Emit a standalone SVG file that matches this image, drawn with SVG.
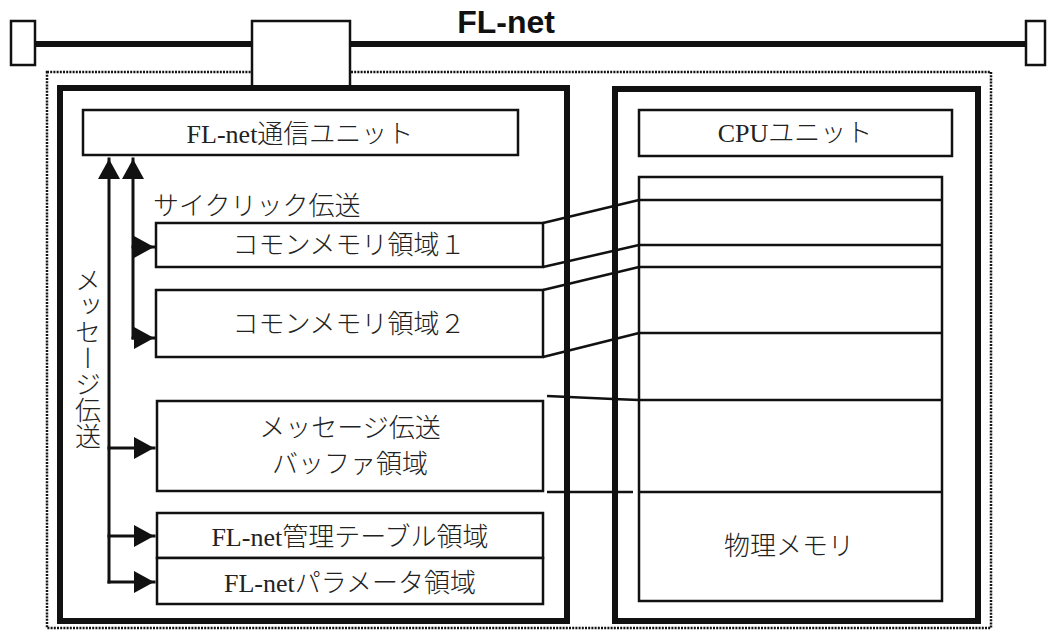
<svg xmlns="http://www.w3.org/2000/svg" width="1050" height="630" viewBox="0 0 1050 630">
<style>
.box{fill:#fff;stroke:#111;stroke-width:2.5}
.thick{fill:none;stroke:#111;stroke-width:6}
.dot{fill:none;stroke:#111;stroke-width:2.5;stroke-dasharray:2 1.2}
.ln{fill:none;stroke:#111;stroke-width:2.5}
.arr{fill:none;stroke:#111;stroke-width:3;stroke-linecap:square}
.t{font-family:"Liberation Serif","Noto Sans CJK JP",serif;font-size:26px;font-weight:300;fill:#222;text-anchor:middle}
.title{font-family:"Liberation Sans",Arial,sans-serif;font-weight:bold;font-size:32px;fill:#111;text-anchor:middle}
</style>
<defs>
<marker id="ah" viewBox="0 0 20 22" markerWidth="20" markerHeight="22" refX="20" refY="11" orient="auto" markerUnits="userSpaceOnUse">
<path d="M0,0 L20,11 L0,22 Z" fill="#111"/>
</marker>
</defs>
<rect width="1050" height="630" fill="#fff"/>

<g id="bus">
<line x1="35" y1="44" x2="1026" y2="44" stroke="#111" stroke-width="6"/>
<rect x="11" y="21" width="24" height="44" class="box"/>
<rect x="1026" y="21" width="19" height="44" class="box"/>
<text x="506" y="33" class="title">FL-net</text>
</g>

<g id="outer">
<rect x="47" y="72" width="944" height="556" class="dot"/>
</g>

<g id="interface">
<rect x="252" y="21" width="98" height="67" class="box"/>
</g>

<g id="fl-net-frame">
<rect x="60" y="88" width="507" height="533" class="thick"/>
</g>

<g id="cpu-frame">
<rect x="615" y="89" width="363" height="532" class="thick"/>
</g>

<g id="fl-net-unit">
<rect x="83" y="110" width="435" height="45" class="box"/>
<text x="300" y="143" class="t">FL-net通信ユニット</text>
</g>

<g id="cpu-unit">
<rect x="639" y="110" width="313" height="46" class="box"/>
<text x="795" y="142" class="t">CPUユニット</text>
</g>

<g id="label-cyclic">
<text x="153" y="215" class="t" style="text-anchor:start">サイクリック伝送</text>
</g>

<g id="label-message">
<text x="85" y="267" class="t" style="writing-mode:vertical-rl;text-anchor:start">メッセージ伝送</text>
</g>

<g id="common1">
<rect x="156" y="223" width="387" height="44" class="box"/>
<text x="349" y="254" class="t">コモンメモリ領域１</text>
</g>

<g id="common2">
<rect x="156" y="290" width="387" height="67" class="box"/>
<text x="349" y="333" class="t">コモンメモリ領域２</text>
</g>

<g id="msg-buffer">
<rect x="157" y="401" width="386" height="90" class="box"/>
<text x="350" y="437" class="t">メッセージ伝送</text>
<text x="350" y="473" class="t">バッファ領域</text>
</g>

<g id="mgmt-table">
<rect x="157" y="513" width="386" height="45" class="box"/>
<text x="350" y="546" class="t">FL-net管理テーブル領域</text>
</g>

<g id="params">
<rect x="157" y="558" width="386" height="46" class="box"/>
<text x="350" y="592" class="t">FL-netパラメータ領域</text>
</g>

<g id="memory">
<rect x="639" y="177" width="303" height="424" class="box"/>
<line x1="639" y1="200" x2="942" y2="200" class="ln"/>
<line x1="639" y1="245" x2="942" y2="245" class="ln"/>
<line x1="639" y1="267" x2="942" y2="267" class="ln"/>
<line x1="639" y1="333" x2="942" y2="333" class="ln"/>
<line x1="639" y1="400" x2="942" y2="400" class="ln"/>
<line x1="639" y1="492" x2="942" y2="492" class="ln"/>
<text x="789" y="555" class="t">物理メモリ</text>
</g>

<g id="connectors">
<path d="M109,582 V159" class="arr" marker-end="url(#ah)"/>
<path d="M109,448 H154" class="arr" marker-end="url(#ah)"/>
<path d="M109,536 H154" class="arr" marker-end="url(#ah)"/>
<path d="M109,582 H154" class="arr" marker-end="url(#ah)"/>
<path d="M133,338 V159" class="arr" marker-end="url(#ah)"/>
<path d="M133,247 H154" class="arr" marker-end="url(#ah)"/>
<path d="M133,338 H154" class="arr" marker-end="url(#ah)"/>
<line x1="543" y1="223" x2="639" y2="200" class="ln"/>
<line x1="543" y1="267" x2="639" y2="245" class="ln"/>
<line x1="543" y1="290" x2="639" y2="267" class="ln"/>
<line x1="543" y1="357" x2="639" y2="333" class="ln"/>
<polyline points="547,396 613,399 639,400" class="ln"/>
<line x1="547" y1="492" x2="633" y2="492" class="ln"/>
</g>
</svg>
